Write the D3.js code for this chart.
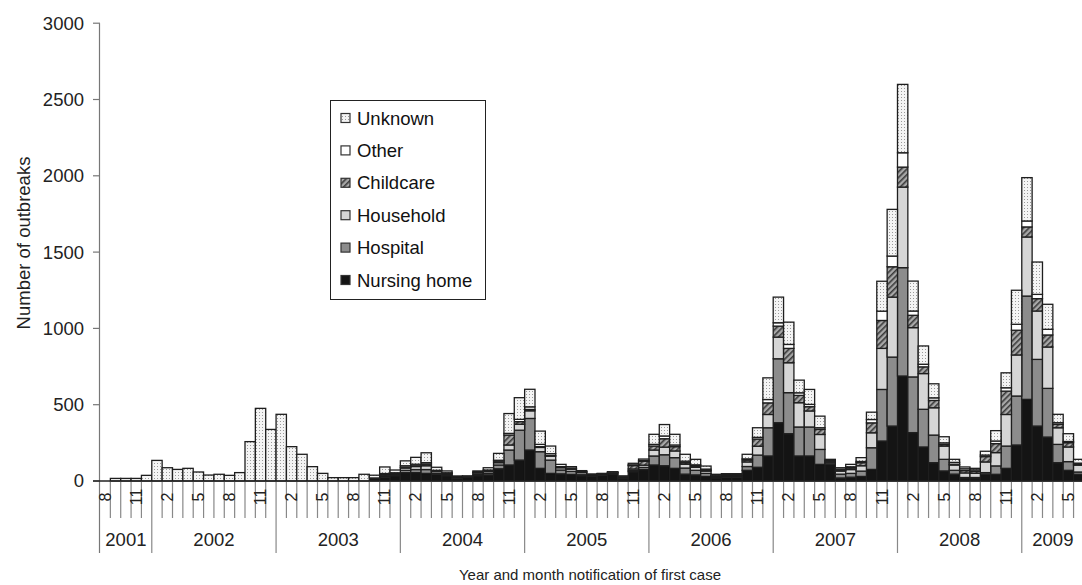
<!DOCTYPE html>
<html>
<head>
<meta charset="utf-8">
<script src="https://cdn.jsdelivr.net/npm/d3@7"></script>
<style>
  body { margin: 0; background: #fff; }
  svg { display: block; font-family: "Liberation Sans", Arial, Helvetica, sans-serif; }
  .tick-label { font-size: 18.5px; fill: #222; }
  .month-label { font-size: 16px; fill: #222; }
  .y-title { font-size: 18.5px; fill: #222; }
  .x-title { font-size: 15px; fill: #222; }
  .legend-label { font-size: 18.5px; fill: #111; }
</style>
</head>
<body>
<div id="chart"></div>
<script>
// first month on the axis is August 2001, one value per month up to June 2009
const startYear = 2001;
const startMonth = 8;

const nursingHome = [0,0,0,0,0, 0,0,0,0,0,0,0,0,0,0,0,0, 0,0,0,0,0,0,0,0,0,15,25,35,
  55,55,50,45,35,15,25,35,40,80,105,137, 203,83,50,47,43,35,30,38,43,15,61,75,
  105,100,83,45,40,30,20,25,25,70,90,164, 382,310,164,164,109,110,20,25,30,76,262,360,
  688,317,223,120,66,45,15,15,45,44,83,236, 535,360,288,120,70,44];
const hospital = [0,0,0,0,0, 0,0,0,0,0,0,0,0,0,0,0,0, 0,0,0,0,0,0,0,0,0,2,8,5,
  15,20,25,5,5,3,2,8,10,25,98,196, 207,109,87,25,20,10,5,4,6,3,8,14,
  59,72,70,40,30,20,8,8,8,25,80,185, 419,269,190,190,98,10,25,25,35,142,338,452,
  710,365,247,181,76,25,8,8,10,55,146,321, 677,437,319,120,57,15];
const household = [0,0,0,0,0, 0,0,0,0,0,0,0,0,0,0,0,0, 0,0,0,0,0,0,0,0,0,2,5,8,
  15,20,25,12,8,8,3,10,12,15,33,39, 50,28,26,15,15,12,5,3,5,3,10,15,
  39,50,44,25,20,15,5,5,5,30,58,87, 142,196,159,105,98,10,20,25,35,98,269,393,
  528,323,234,179,87,35,30,28,70,87,207,269, 387,317,271,109,96,45];
const childcare = [0,0,0,0,0, 0,0,0,0,0,0,0,0,0,0,0,0, 0,0,0,0,0,0,0,0,0,0,8,2,
  5,5,10,3,2,1,0,3,5,10,65,17, 9,5,3,2,2,2,1,1,2,8,22,25,
  26,55,28,10,8,5,2,2,2,12,47,76, 72,94,48,28,33,2,5,10,20,65,183,199,
  131,81,44,48,10,5,15,12,35,59,153,162, 66,81,79,22,28,5];
const other = [0,0,0,0,0, 0,0,0,0,0,0,0,0,0,0,0,0, 0,0,0,0,0,0,0,0,0,1,3,4,
  10,10,10,5,4,2,1,3,5,6,11,15, 17,15,13,5,4,3,2,2,2,2,5,5,
  11,18,11,10,8,8,3,2,2,8,11,22, 22,26,17,15,11,3,7,8,8,22,61,70,
  94,28,17,17,11,12,12,10,10,17,22,39, 39,28,37,11,8,8];
const unknown = [0,17,17,17,37, 135,87,76,83,59,39,44,37,55,258,476,338,
  437,225,175,94,50,22,22,22,44,18,43,18,
  32,45,65,20,12,4,2,7,15,45,130,142, 115,87,50,15,10,6,3,2,3,2,10,10,
  66,75,70,45,36,20,6,6,6,30,63,142, 168,146,83,98,76,7,10,16,25,48,196,306,
  448,196,120,92,40,20,12,10,25,68,98,223, 284,212,164,55,51,25];

const seriesNames = ['Nursing home', 'Hospital', 'Household', 'Childcare', 'Other', 'Unknown'];
const yearLabels = ['2001','2002','2003','2004','2005','2006','2007','2008','2009'];
const labelledMonths = [2, 5, 8, 11];
const yTicks = [0, 500, 1000, 1500, 2000, 2500, 3000];

const width = 1082, height = 585;
const x0 = 100, monthWidth = 10.357;
const yZero = 481, yTop = 23.2;

const svg = d3.select('#chart').append('svg')
  .attr('width', width)
  .attr('height', height);

// fill patterns
const defs = svg.append('defs');
const dots = defs.append('pattern')
  .attr('id', 'dots')
  .attr('patternUnits', 'userSpaceOnUse')
  .attr('width', 3).attr('height', 3);
dots.append('rect').attr('width', 3).attr('height', 3).attr('fill', '#f4f4f4');
dots.append('rect').attr('x', 1).attr('y', 1).attr('width', 1).attr('height', 1).attr('fill', '#9a9a9a');

const hatch = defs.append('pattern')
  .attr('id', 'hatch')
  .attr('patternUnits', 'userSpaceOnUse')
  .attr('width', 4).attr('height', 4)
  .attr('patternTransform', 'rotate(45)');
hatch.append('rect').attr('width', 4).attr('height', 4).attr('fill', '#a8a8a8');
hatch.append('rect').attr('width', 1.6).attr('height', 4).attr('fill', '#3a3a3a');

const fills = ['#141414', '#8c8c8c', '#d6d6d6', 'url(#hatch)', '#ffffff', 'url(#dots)'];

// month table
const months = unknown.map((_, i) => {
  const m = (startMonth - 1 + i) % 12 + 1;
  const yr = startYear + Math.floor((startMonth - 1 + i) / 12);
  return {
    idx: i, month: m, year: yr,
    'Nursing home': nursingHome[i], 'Hospital': hospital[i], 'Household': household[i],
    'Childcare': childcare[i], 'Other': other[i], 'Unknown': unknown[i]
  };
});

const x = d3.scaleBand()
  .domain(months.map(d => d.idx))
  .range([x0, x0 + months.length * monthWidth])
  .padding(0);

const y = d3.scaleLinear()
  .domain([0, 3000])
  .range([yZero, yTop]);

const stacked = d3.stack().keys(seriesNames)(months);

// bars
svg.append('g')
  .selectAll('g')
  .data(stacked)
  .join('g')
    .attr('fill', (d, i) => fills[i])
  .selectAll('rect')
  .data(d => d.filter(v => v[1] - v[0] > 0))
  .join('rect')
    .attr('x', d => x(d.data.idx))
    .attr('y', d => y(d[1]))
    .attr('width', x.bandwidth())
    .attr('height', d => y(d[0]) - y(d[1]))
    .attr('stroke', '#1e1e1e')
    .attr('stroke-width', 1.3);

// y axis
const yAxis = svg.append('g');
yAxis.append('line')
  .attr('x1', x0 - 0.5).attr('x2', x0 - 0.5)
  .attr('y1', yTop).attr('y2', 553)
  .attr('stroke', '#777').attr('stroke-width', 1.2);
yAxis.selectAll('.ytick')
  .data(yTicks)
  .join('line')
    .attr('x1', x0 - 7).attr('x2', x0)
    .attr('y1', d => y(d)).attr('y2', d => y(d))
    .attr('stroke', '#777').attr('stroke-width', 1.2);
yAxis.selectAll('.ylab')
  .data(yTicks)
  .join('text')
    .attr('class', 'tick-label')
    .attr('x', 84)
    .attr('y', d => y(d))
    .attr('dy', '0.35em')
    .attr('text-anchor', 'end')
    .text(d => d);

svg.append('text')
  .attr('class', 'y-title')
  .attr('transform', `translate(30,243) rotate(-90)`)
  .attr('text-anchor', 'middle')
  .text('Number of outbreaks');

// x axis: baseline, month ticks, year separators
const xAxis = svg.append('g');
xAxis.selectAll('.mtick')
  .data(months.filter(d => d.idx > 0))
  .join('line')
    .attr('x1', d => x(d.idx)).attr('x2', d => x(d.idx))
    .attr('y1', yZero).attr('y2', d => d.month === 1 ? 553 : 518)
    .attr('stroke', '#888').attr('stroke-width', 1.2);
xAxis.append('line')
  .attr('x1', x0 - 7).attr('x2', width)
  .attr('y1', yZero).attr('y2', yZero)
  .attr('stroke', '#222').attr('stroke-width', 1.3);

xAxis.selectAll('.mlab')
  .data(months.filter(d => labelledMonths.includes(d.month)))
  .join('text')
    .attr('class', 'month-label')
    .attr('transform', d => `translate(${x(d.idx) + x.bandwidth() / 2},497) rotate(-90)`)
    .attr('text-anchor', 'middle')
    .attr('dy', '0.35em')
    .text(d => d.month);

const yearSpans = yearLabels.map(yr => {
  const ms = months.filter(d => d.year === +yr);
  return { label: yr, x1: x(ms[0].idx), x2: x(ms[ms.length - 1].idx) + x.bandwidth() };
});
xAxis.selectAll('.ylabel')
  .data(yearSpans)
  .join('text')
    .attr('class', 'tick-label')
    .attr('x', d => (d.x1 + d.x2) / 2)
    .attr('y', 540)
    .attr('dy', '0.35em')
    .attr('text-anchor', 'middle')
    .text(d => d.label);

svg.append('text')
  .attr('class', 'x-title')
  .attr('x', 590)
  .attr('y', 580)
  .attr('text-anchor', 'middle')
  .text('Year and month notification of first case');

// legend (top entry is the top of the stack)
const legend = svg.append('g');
legend.append('rect')
  .attr('x', 330.5).attr('y', 100.5)
  .attr('width', 155).attr('height', 199)
  .attr('fill', '#fff').attr('stroke', '#222').attr('stroke-width', 1);

const legendItems = seriesNames.map((name, i) => ({ name, fill: fills[i] })).reverse();
const li = legend.selectAll('.item')
  .data(legendItems)
  .join('g')
    .attr('transform', (d, i) => `translate(341,${118 + i * 32.4})`);
li.append('rect')
  .attr('x', 0).attr('y', -4.5)
  .attr('width', 9).attr('height', 9)
  .attr('fill', d => d.fill)
  .attr('stroke', '#333').attr('stroke-width', 1.2);
li.append('text')
  .attr('class', 'legend-label')
  .attr('x', 16)
  .attr('dy', '0.36em')
  .text(d => d.name);
</script>
</body>
</html>
